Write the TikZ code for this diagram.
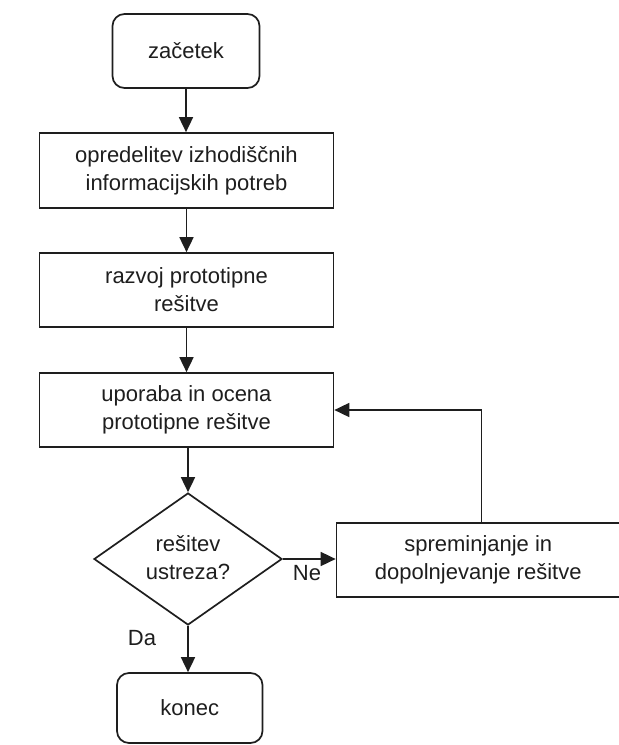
\documentclass[tikz,border=0pt]{standalone}
\usepackage{fontspec}
\setmainfont{Liberation Sans}
\usetikzlibrary{arrows.meta,shapes.geometric}
\definecolor{ink}{HTML}{1E1E1E}
\tikzset{
  base/.style={draw=ink, line width=1.7pt, text=ink, inner sep=0pt,
    align=center, font=\fontsize{22}{28}\selectfont},
  term/.style={base, rounded corners=12pt},
  proc/.style={base},
  decision/.style={draw=ink, line width=1.7pt, diamond, inner sep=0pt,
    minimum width=188pt, minimum height=132pt},
  txt/.style={text=ink, inner sep=0pt, align=center,
    font=\fontsize{22}{28}\selectfont},
  arr/.style={draw=ink, line width=1.7pt,
    -{Triangle[length=15pt,width=14pt]}},
}
\begin{document}
\begin{tikzpicture}[x=1pt,y=-1pt]
  \useasboundingbox (0,0) rectangle (619,745);
  \clip (0,0) rectangle (619,745);
  \fill[white] (0,0) rectangle (619,745);

  % main column
  \node[term, minimum width=147pt, minimum height=74pt] (start) at (186,51) {začetek};
  \node[proc, minimum width=294pt, minimum height=75pt] (b1) at (186.5,170.5)
    {opredelitev izhodiščnih\\informacijskih potreb};
  \node[proc, minimum width=294pt, minimum height=74pt] (b2) at (186.5,290)
    {razvoj prototipne\\rešitve};
  \node[proc, minimum width=294pt, minimum height=74pt] (b3) at (186.5,410)
    {uporaba in ocena\\prototipne rešitve};
  \node[decision] (dec) at (188,559) {};
  \node[txt] (dectext) at (188,558) {rešitev\\ustreza?};
  \node[term, minimum width=145.5pt, minimum height=70pt] (end) at (189.75,708) {konec};

  % side branch
  \node[proc, minimum width=283.5pt, minimum height=74pt] (mod) at (478.25,560)
    {spreminjanje in\\dopolnjevanje rešitve};

  % connectors
  \draw[arr] (start.south) -- (start.south |- b1.north);
  \draw[arr] (b1.south) -- (b1.south |- b2.north);
  \draw[arr] (b2.south) -- (b2.south |- b3.north);
  \draw[arr] (b3.south -| dec.north) -- (dec.north);
  \draw[arr] (dec.east) -- (dec.east -| mod.west);
  \draw[arr] (dec.south) -- (dec.south |- end.north);
  \coordinate (fbx) at (481.6,0);
  \draw[arr] (mod.north -| fbx) |- (b3.east);

  % branch labels
  \node[txt] (ne) at (307,573) {Ne};
  \node[txt] (da) at (142,638) {Da};
\end{tikzpicture}
\end{document}
